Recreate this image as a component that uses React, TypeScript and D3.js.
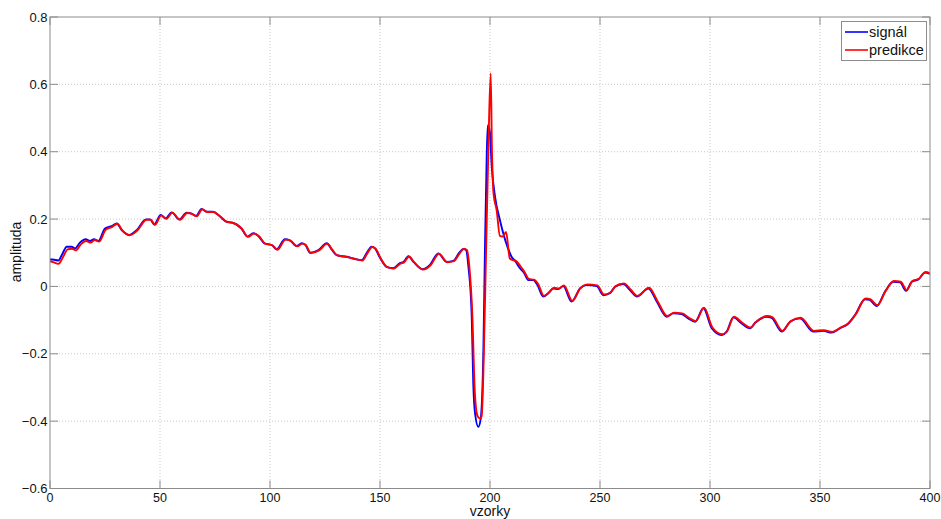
import React from "react";
import * as d3 from "d3";

// Measured signal (sample index, amplitude)
const signalX = [
  0, 1.2, 3.8, 5.5, 7.6, 9.8, 11.4, 13.6, 16.2, 18.2, 20, 22, 25, 28, 30.3, 32.6, 36, 39.4, 43.6, 45.5,
  47.4, 50.3, 52.6, 55.3, 58.8, 62.1, 64.4, 66.4, 68.9, 71.2, 74, 76.5, 80.3, 82.6, 87, 89.7, 92.4, 94.7,
  97.5, 100.8, 103, 106.8, 109, 112.1, 114.4, 116, 118.2, 122, 125.8, 128, 130.3, 134.8, 137.9, 141.7, 144,
  146.2, 147.7, 150, 153, 156, 159, 160.6, 162.9, 165.2, 169.4, 172.7, 176.5, 180.3, 183.3, 186, 187.9,
  189.1, 190.2, 191.7, 192.4, 193.2, 194.7, 195.8, 197, 197.7, 198.5, 199, 199.9, 200.8, 202.3, 204.5,
  207.9, 209.8, 211.5, 213.6, 215.5, 217.4, 219.7, 221.5, 224.2, 226.5, 228.8, 231, 233.3, 237.1, 240.9,
  243.9, 248.5, 251.5, 254.5, 256.8, 260.6, 263.6, 266.7, 272, 275.8, 280.3, 283.3, 287.1, 290.1, 293.2,
  297, 300.8, 305.3, 307.5, 310.6, 314.4, 318.2, 320.5, 325.8, 328, 332.6, 336.4, 340.9, 346.9, 351.5,
  355.3, 359.1, 362.9, 365.9, 370.5, 372.5, 375.8, 379.5, 383.3, 386.4, 389.1, 391.7, 394.7, 397.7, 400,
];
const signalY = [
  0.08, 0.08, 0.077, 0.095, 0.118, 0.118, 0.113, 0.13, 0.14, 0.135, 0.14, 0.135, 0.172, 0.179, 0.187,
  0.167, 0.153, 0.167, 0.199, 0.199, 0.184, 0.212, 0.202, 0.22, 0.199, 0.219, 0.216, 0.209, 0.23, 0.222,
  0.222, 0.212, 0.192, 0.19, 0.172, 0.148, 0.158, 0.15, 0.128, 0.123, 0.11, 0.14, 0.137, 0.12, 0.128,
  0.124, 0.1, 0.108, 0.128, 0.11, 0.093, 0.088, 0.083, 0.078, 0.1, 0.118, 0.113, 0.085, 0.058, 0.054,
  0.069, 0.072, 0.09, 0.073, 0.051, 0.064, 0.098, 0.073, 0.076, 0.1, 0.111, 0.108, 0.058, -0.09, -0.288,
  -0.377, -0.417, -0.392, -0.189, 0.108, 0.385, 0.479, 0.46, 0.355, 0.266, 0.197, 0.118, 0.088, 0.075,
  0.054, 0.04, 0.019, 0.019, 0.005, -0.03, -0.02, -0.006, -0.008, 0.001, -0.045, -0.006, 0.004, 0.001,
  -0.026, -0.02, -0.001, 0.007, -0.011, -0.03, -0.006, -0.045, -0.09, -0.08, -0.082, -0.095, -0.105,
  -0.065, -0.124, -0.144, -0.135, -0.092, -0.11, -0.124, -0.108, -0.09, -0.093, -0.134, -0.105, -0.095,
  -0.134, -0.132, -0.137, -0.124, -0.11, -0.085, -0.038, -0.04, -0.058, -0.016, 0.014, 0.012, -0.013,
  0.014, 0.021, 0.041, 0.037,
];

// Prediction (sample index, amplitude)
const predX = [
  0, 1.5, 3.8, 6, 8, 10, 11.8, 14, 16.5, 18.5, 20.3, 22.3, 25.3, 28.3, 30.6, 32.9, 36.3, 39.7, 43.9, 45.8,
  47.7, 50.6, 52.9, 55.6, 59.1, 62.4, 64.7, 66.7, 69.2, 71.5, 74.3, 76.8, 80.6, 82.9, 87.3, 90, 92.7, 95,
  97.8, 101.1, 103.3, 107.1, 109.3, 112.4, 114.7, 116.3, 118.5, 122.3, 126.1, 128.3, 130.6, 135.1, 138.2,
  142, 144.3, 146.5, 148, 150.3, 153.3, 156.3, 159.3, 160.9, 163.2, 165.5, 169.7, 173, 176.8, 180.6, 183.6,
  186.3, 188.2, 189.5, 190.6, 192, 193, 193.8, 194.5, 195.5, 196.2, 197.2, 198.2, 199.3, 200.3, 200.9,
  201.6, 203, 204.5, 205.8, 207.3, 209, 210.6, 212, 213.6, 215.5, 217.7, 220, 221.8, 224.5, 226.8, 229.1,
  231.3, 233.6, 237.4, 241.2, 244.2, 248.8, 251.8, 254.8, 257.1, 260.9, 263.9, 267, 272.3, 276.1, 280.6,
  283.6, 287.4, 290.4, 293.5, 297.3, 301.1, 305.6, 307.8, 310.9, 314.7, 318.5, 320.8, 326.1, 328.3, 332.9,
  336.7, 341.2, 347.2, 351.8, 355.6, 359.4, 363.2, 366.2, 370.8, 372.8, 376.1, 379.8, 383.6, 386.7, 389.4,
  392, 395, 398, 400,
];
const predY = [
  0.075, 0.072, 0.067, 0.088, 0.11, 0.112, 0.107, 0.125, 0.135, 0.13, 0.138, 0.133, 0.168, 0.177, 0.186,
  0.166, 0.152, 0.166, 0.198, 0.198, 0.183, 0.211, 0.201, 0.219, 0.198, 0.218, 0.215, 0.208, 0.229, 0.221,
  0.221, 0.211, 0.191, 0.189, 0.171, 0.147, 0.157, 0.149, 0.127, 0.122, 0.109, 0.139, 0.136, 0.119, 0.127,
  0.123, 0.099, 0.107, 0.127, 0.109, 0.092, 0.087, 0.082, 0.077, 0.099, 0.117, 0.112, 0.084, 0.057, 0.053,
  0.068, 0.071, 0.089, 0.072, 0.05, 0.063, 0.097, 0.072, 0.075, 0.099, 0.112, 0.108, 0.06, -0.09, -0.3,
  -0.37, -0.387, -0.392, -0.385, -0.2, 0.1, 0.42, 0.633, 0.4, 0.276, 0.227, 0.15, 0.148, 0.162, 0.083,
  0.078, 0.075, 0.062, 0.045, 0.022, 0.02, 0.008, -0.028, -0.018, -0.004, -0.006, 0.003, -0.043, -0.004,
  0.006, 0.003, -0.024, -0.018, 0.001, 0.009, -0.009, -0.028, -0.004, -0.043, -0.088, -0.078, -0.08, -0.093,
  -0.103, -0.063, -0.122, -0.142, -0.133, -0.09, -0.108, -0.122, -0.106, -0.088, -0.091, -0.132, -0.103,
  -0.093, -0.132, -0.13, -0.135, -0.122, -0.108, -0.083, -0.036, -0.038, -0.056, -0.014, 0.016, 0.014,
  -0.011, 0.016, 0.023, 0.043, 0.039,
];

const xTicks = [0, 50, 100, 150, 200, 250, 300, 350, 400];
const yTicks = [-0.6, -0.4, -0.2, 0, 0.2, 0.4, 0.6, 0.8];
const seriesNames = ["signál", "predikce"];

const W = 941;
const H = 519;
const left = 50;
const top = 17;
const right = 930;
const bottom = 488.5;
const font = "'Liberation Sans', Arial, sans-serif";

export default function App() {
  const x = d3.scaleLinear().domain([0, 400]).range([left, right]);
  const y = d3.scaleLinear().domain([-0.6, 0.8]).range([bottom, top]);

  const line = d3
    .line<[number, number]>()
    .x((d) => x(d[0]))
    .y((d) => y(d[1]))
    .curve(d3.curveMonotoneX);

  const sig: [number, number][] = signalX.map((v, i) => [v, signalY[i]]);
  const pred: [number, number][] = predX.map((v, i) => [v, predY[i]]);

  const tickLen = 8;
  const fmt = (v: number) => (v === 0 ? "0" : d3.format(".1f")(v));

  return (
    <svg
      width={W}
      height={H}
      style={{ position: "absolute", left: 0, top: 0, background: "#fff" }}
      fontFamily={font}
    >
      <defs>
        <clipPath id="plotClip">
          <rect x={left} y={top} width={right - left} height={bottom - top} />
        </clipPath>
      </defs>
      <rect x={0} y={0} width={W} height={H} fill="#fff" />

      {/* grid */}
      {xTicks.slice(1, -1).map((t) => (
        <line key={"gx" + t} x1={x(t)} x2={x(t)} y1={top} y2={bottom} stroke="#c8c8c8" strokeWidth={1} strokeDasharray="1,2" />
      ))}
      {yTicks.slice(1, -1).map((t) => (
        <line key={"gy" + t} x1={left} x2={right} y1={y(t)} y2={y(t)} stroke="#c8c8c8" strokeWidth={1} strokeDasharray="1,2" />
      ))}

      {/* ticks on all sides, inward */}
      {xTicks.map((t) => (
        <g key={"tx" + t} stroke="#8c8c8c" strokeWidth={1}>
          <line x1={x(t)} x2={x(t)} y1={bottom} y2={bottom - tickLen} />
          <line x1={x(t)} x2={x(t)} y1={top} y2={top + tickLen} />
        </g>
      ))}
      {yTicks.map((t) => (
        <g key={"ty" + t} stroke="#8c8c8c" strokeWidth={1}>
          <line x1={left} x2={left + tickLen} y1={y(t)} y2={y(t)} />
          <line x1={right} x2={right - tickLen} y1={y(t)} y2={y(t)} />
        </g>
      ))}

      {/* series */}
      <g clipPath="url(#plotClip)" fill="none" strokeWidth={1.9} strokeLinejoin="round">
        <path d={line(sig) ?? ""} stroke="#0000ff" />
        <path d={line(pred) ?? ""} stroke="#ff0000" />
      </g>

      {/* frame */}
      <rect x={left} y={top} width={right - left} height={bottom - top} fill="none" stroke="#8c8c8c" strokeWidth={1} />

      {/* tick labels */}
      {xTicks.map((t) => (
        <text key={"lx" + t} x={x(t)} y={501.5} textAnchor="middle" fontSize={12.5} fill="#111">
          {t}
        </text>
      ))}
      {yTicks.map((t) => (
        <text key={"ly" + t} x={47.5} y={y(t) + 4.5} textAnchor="end" fontSize={13} fill="#111">
          {fmt(t)}
        </text>
      ))}

      {/* axis titles */}
      <text x={490} y={516} textAnchor="middle" fontSize={14} fill="#111">
        vzorky
      </text>
      <text transform={`translate(20.5, 252) rotate(-90)`} textAnchor="middle" fontSize={14} fill="#111">
        amplituda
      </text>

      {/* legend */}
      <g>
        <rect x={841.5} y={21.5} width={85} height={39} fill="#fff" stroke="#8c8c8c" strokeWidth={1} />
        {seriesNames.map((name, i) => (
          <g key={name}>
            <line
              x1={845}
              x2={868}
              y1={32 + i * 18}
              y2={32 + i * 18}
              stroke={i === 0 ? "#0000ff" : "#ff0000"}
              strokeWidth={1.6}
            />
            <text x={869} y={36.5 + i * 18} fontSize={14.5} fill="#111">
              {name}
            </text>
          </g>
        ))}
      </g>
    </svg>
  );
}
